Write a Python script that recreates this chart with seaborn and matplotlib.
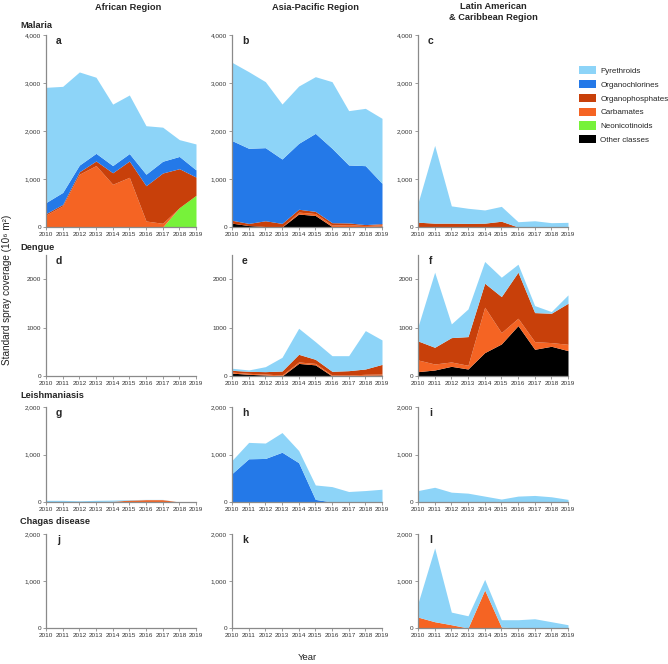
import matplotlib
matplotlib.use("Agg")
import matplotlib.pyplot as plt
from matplotlib.patches import Patch
from matplotlib.ticker import FuncFormatter
import seaborn as sns

sns.set_theme(style="ticks")
plt.rcParams['font.family'] = ['Liberation Sans', 'DejaVu Sans']

years = [2010, 2011, 2012, 2013, 2014, 2015, 2016, 2017, 2018, 2019]
classes = ["Pyrethroids", "Organochlorines", "Organophosphates",
           "Carbamates", "Neonicotinoids", "Other classes"]
class_colors = ["#8dd4f8", "#2479e8", "#c8400a", "#f56423", "#77f23a", "#000000"]
regions = ["African Region", "Asia-Pacific Region", "Latin American\n& Caribbean Region"]
diseases = ["Malaria", "Dengue", "Leishmaniasis", "Chagas disease"]
letters = ["a", "b", "c", "d", "e", "f", "g", "h", "i", "j", "k", "l"]
zeros = [0] * 10

# Malaria - African Region (a)
a_pyr = [2400, 2210, 1940, 1585, 1280, 1220, 1010, 710, 350, 540]
a_oc = [230, 250, 140, 160, 150, 155, 240, 245, 255, 150]
a_op = [30, 30, 50, 95, 240, 340, 735, 1048, 811, 380]
a_carb = [250, 440, 1100, 1280, 890, 1035, 125, 77, 0, 0]
a_neo = [0, 0, 0, 0, 0, 0, 0, 0, 404, 660]
# Malaria - Asia-Pacific (b)
b_pyr = [1630, 1596, 1375, 1145, 1194, 1181, 1388, 1132, 1194, 1354]
b_oc = [1660, 1565, 1523, 1342, 1373, 1626, 1550, 1207, 1228, 840]
b_op = [60, 45, 120, 75, 60, 45, 50, 35, 20, 20]
b_carb = [0, 0, 0, 0, 40, 40, 30, 40, 20, 30]
b_oth = [80, 30, 10, 0, 270, 240, 10, 10, 10, 20]
# Malaria - Latin America (c)
c_pyr = [400, 1620, 360, 315, 275, 310, 110, 130, 90, 97]
c_op = [100, 80, 80, 75, 80, 120, 0, 0, 0, 0]
# Dengue - Asia-Pacific (e)
e_pyr = [43, 28, 103, 283, 538, 365, 323, 310, 793, 505]
e_op = [37, 42, 50, 83, 158, 85, 77, 90, 110, 200]
e_carb = [20, 20, 20, 20, 30, 30, 20, 20, 20, 20]
e_oth = [60, 35, 20, 0, 260, 230, 0, 0, 15, 20]
# Dengue - Latin America (f)
f_pyr = [296, 1552, 283, 572, 449, 400, 165, 145, 34, 173]
f_op = [393, 345, 503, 593, 496, 744, 952, 600, 607, 848]
f_carb = [241, 124, 90, 76, 938, 235, 152, 158, 76, 131]
f_oth = [90, 124, 200, 145, 483, 662, 1041, 552, 614, 524]
# Leishmaniasis - African (g)
g_pyr = [35, 35, 20, 25, 25, 10, 5, 5, 0, 0]
g_carb = [0, 0, 5, 10, 15, 40, 50, 50, 0, 0]
# Leishmaniasis - Asia-Pacific (h)
h_pyr = [276, 345, 324, 414, 255, 304, 324, 221, 241, 269]
h_oc = [600, 910, 917, 1048, 828, 55, 0, 0, 0, 0]
# Leishmaniasis - Latin America (i)
i_pyr = [241, 310, 207, 186, 124, 62, 124, 138, 110, 55]
# Chagas - Latin America (l)
l_pyr = [296, 1570, 268, 260, 225, 156, 176, 197, 134, 70]
l_carb = [232, 134, 70, 0, 810, 20, 0, 0, 0, 0]

# order: pyr, oc, op, carb, neo, other
panel_data = [
    [a_pyr, a_oc, a_op, a_carb, a_neo, zeros],
    [b_pyr, b_oc, b_op, b_carb, zeros, b_oth],
    [c_pyr, zeros, c_op, zeros, zeros, zeros],
    None,
    [e_pyr, zeros, e_op, e_carb, zeros, e_oth],
    [f_pyr, zeros, f_op, f_carb, zeros, f_oth],
    [g_pyr, zeros, zeros, g_carb, zeros, zeros],
    [h_pyr, h_oc, zeros, zeros, zeros, zeros],
    [i_pyr, zeros, zeros, zeros, zeros, zeros],
    None,
    None,
    [l_pyr, zeros, zeros, l_carb, zeros, zeros],
]

W, H = 668, 664
fig = plt.figure(figsize=(W / 100, H / 100), dpi=100)

col_x = [46, 232, 418]
col_w = 150
row_y = [(35, 227), (255, 376), (407, 502), (534, 628)]
row_ylim = [4000, 2500, 2000, 2000]
row_ticks = [[0, 1000, 2000, 3000, 4000], [0, 1000, 2000], [0, 1000, 2000], [0, 1000, 2000]]
row_comma = [True, False, True, True]

spine_col = "#8a8a8a"
for r in range(4):
    top, bot = row_y[r]
    for c in range(3):
        idx = r * 3 + c
        ax = fig.add_axes([col_x[c] / W, 1 - bot / H, col_w / W, (bot - top) / H])
        data = panel_data[idx]
        if data is not None:
            stack = [data[5], data[4], data[3], data[2], data[1], data[0]]
            cols = [class_colors[5], class_colors[4], class_colors[3],
                    class_colors[2], class_colors[1], class_colors[0]]
            ax.stackplot(years, *stack, colors=cols, linewidth=0)
        ax.set_xlim(2010, 2019)
        ax.set_ylim(0, row_ylim[r])
        ax.set_xticks(years)
        ax.set_yticks(row_ticks[r])
        if row_comma[r]:
            ax.yaxis.set_major_formatter(FuncFormatter(lambda v, p: f"{int(v):,}"))
        else:
            ax.yaxis.set_major_formatter(FuncFormatter(lambda v, p: f"{int(v)}"))
        sns.despine(ax=ax)
        for s in ["left", "bottom"]:
            ax.spines[s].set_color(spine_col)
            ax.spines[s].set_linewidth(0.9)
        ax.tick_params(axis="both", labelsize=4.6, colors=spine_col, labelcolor="#333333",
                       length=2, width=0.6, pad=1.5)
        ax.set_facecolor("white")
        # panel letter
        fig.text((col_x[c] + 13) / W, 1 - (top + 6) / H, letters[idx],
                 fontsize=7.5, fontweight="bold", ha="center", va="center")

# column titles
fig.text(128 / W, 1 - 7 / H, regions[0], fontsize=6.7, fontweight="bold", ha="center", va="center")
fig.text(315 / W, 1 - 7 / H, regions[1], fontsize=6.7, fontweight="bold", ha="center", va="center")
fig.text(493 / W, 1 - 12 / H, regions[2], fontsize=6.7, fontweight="bold", ha="center",
         va="center", linespacing=1.15)

# row labels
row_lab_y = [25, 247, 396, 522]
for r in range(4):
    fig.text(20 / W, 1 - row_lab_y[r] / H, diseases[r], fontsize=6.7, fontweight="bold",
             ha="left", va="center")

# axis labels
fig.text(7 / W, 1 - 290 / H, "Standard spray coverage (10\u2076 m\u00b2)", rotation=90,
         fontsize=7.2, ha="center", va="center", color="#222222")
fig.text(307 / W, 1 - 657 / H, "Year", fontsize=6.8, ha="center", va="center", color="#222222")

# legend
handles = [Patch(facecolor=class_colors[i], edgecolor="none", label=classes[i]) for i in range(6)]
fig.legend(handles=handles, loc="upper left", bbox_to_anchor=(579 / W, 1 - 66 / H),
           frameon=False, fontsize=5.8, handlelength=2.1, handleheight=1.2,
           labelspacing=0.62, handletextpad=0.55, borderaxespad=0, borderpad=0)

fig.savefig("out.png", dpi=100, facecolor="white")
